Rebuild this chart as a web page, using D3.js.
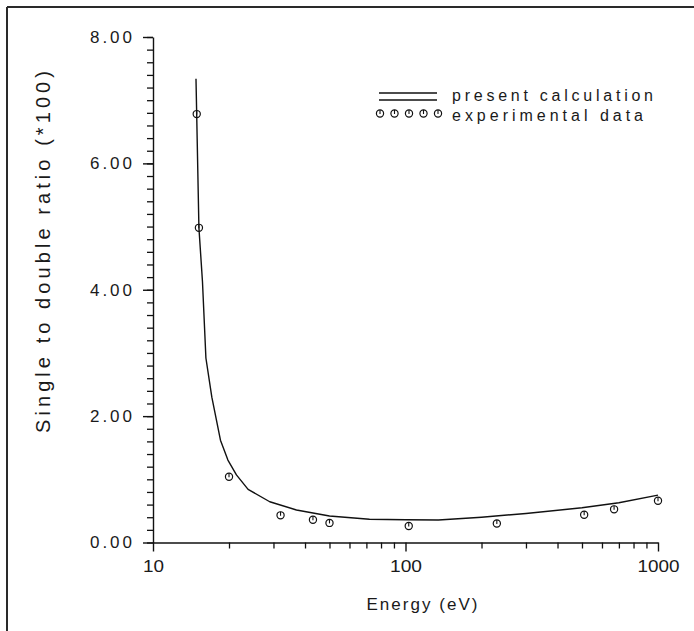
<!DOCTYPE html>
<html>
<head>
<meta charset="utf-8">
<script src="https://cdn.jsdelivr.net/npm/d3@7"></script>
<style>
  html, body { margin: 0; padding: 0; background: #fff; }
  svg { display: block; }
  text { font-family: "Liberation Sans", Arial, sans-serif; fill: #1a1a1a; }
</style>
</head>
<body>
<script>
// ---- data ----
const calcEnergy = [14.8, 15.2, 15.7, 16.2, 17.1, 18.5, 19.8, 21.4, 23.8, 29, 37, 50, 72, 100, 135, 200, 300, 500, 700, 1000];
const calcRatio  = [7.34, 4.98, 4.13, 2.92, 2.30, 1.62, 1.305, 1.07, 0.84, 0.645, 0.514, 0.42, 0.367, 0.36, 0.355, 0.40, 0.46, 0.55, 0.63, 0.75];

const expEnergy = [14.9, 15.2, 20, 32, 43, 50, 103, 230, 510, 670, 1000];
const expRatio  = [6.78, 4.98, 1.04, 0.43, 0.36, 0.31, 0.26, 0.30, 0.44, 0.525, 0.66];

const xMajorTicks = [10, 100, 1000];
const xMinorTicks = [20, 30, 40, 50, 60, 70, 80, 90, 200, 300, 400, 500, 600, 700, 800, 900];
const yMajorTicks = [0, 2, 4, 6, 8];
const yMinorTicks = d3.range(0, 8.001, 0.2);

const legendLabels = ["present calculation", "experimental data"];
const xTitle = "Energy (eV)";
const yTitle = "Single to double ratio (*100)";

// ---- drawing ----
const W = 694, H = 631;
const svg = d3.select("body").append("svg").attr("width", W).attr("height", H);

// frame (top and left edges only, as in the scan)
svg.append("line").attr("x1", 7).attr("y1", 7).attr("x2", W).attr("y2", 7)
  .attr("stroke", "#2a2a2a").attr("stroke-width", 2);
svg.append("line").attr("x1", 7).attr("y1", 7).attr("x2", 7).attr("y2", H)
  .attr("stroke", "#2a2a2a").attr("stroke-width", 2);

const x = d3.scaleLog().domain([10, 1000]).range([153, 658]);
const y = d3.scaleLinear().domain([0, 8]).range([542.5, 37]);

const ink = "#111";
const font = '"Liberation Sans", Arial, sans-serif';

// minor ticks
svg.append("g").attr("transform", `translate(0,${y(0)})`)
  .call(d3.axisBottom(x).tickValues(xMinorTicks).tickSize(6).tickSizeOuter(0).tickFormat(""))
  .call(g => g.select(".domain").remove())
  .call(g => g.selectAll("line").attr("stroke", ink).attr("stroke-width", 1.3));
svg.append("g").attr("transform", `translate(${x(10)},0)`)
  .call(d3.axisLeft(y).tickValues(yMinorTicks).tickSize(6).tickSizeOuter(0).tickFormat(""))
  .call(g => g.select(".domain").remove())
  .call(g => g.selectAll("line").attr("stroke", ink).attr("stroke-width", 1.3));

// major axes
const xWidths = {10: 21, 100: 32, 1000: 42};
svg.append("g").attr("transform", `translate(0,${y(0)})`)
  .call(d3.axisBottom(x).tickValues(xMajorTicks).tickSize(9).tickSizeOuter(0).tickPadding(8).tickFormat(d3.format("d")))
  .call(g => g.select(".domain").attr("stroke", ink).attr("stroke-width", 1.4))
  .call(g => g.selectAll("line").attr("stroke", ink).attr("stroke-width", 1.4))
  .call(g => g.selectAll("text").attr("font-size", 17).attr("fill", "#1a1a1a")
      .attr("font-family", font)
      .attr("textLength", d => xWidths[d]).attr("lengthAdjust", "spacingAndGlyphs"));

svg.append("g").attr("transform", `translate(${x(10)},0)`)
  .call(d3.axisLeft(y).tickValues(yMajorTicks).tickSize(10).tickSizeOuter(0).tickPadding(11).tickFormat(d3.format(".2f")))
  .call(g => g.select(".domain").attr("stroke", ink).attr("stroke-width", 1.4))
  .call(g => g.selectAll("line").attr("stroke", ink).attr("stroke-width", 1.4))
  .call(g => g.selectAll("text").attr("font-size", 17).attr("fill", "#1a1a1a")
      .attr("font-family", font)
      .attr("textLength", 42).attr("lengthAdjust", "spacing"));

// axis titles
svg.append("text").attr("x", 422).attr("y", 610).attr("text-anchor", "middle")
  .attr("font-size", 17).attr("textLength", 111).attr("lengthAdjust", "spacing").text(xTitle);
svg.append("text").attr("transform", "translate(50,252) rotate(-90)").attr("text-anchor", "middle")
  .attr("font-size", 20).attr("textLength", 362).attr("lengthAdjust", "spacing").text(yTitle);

// calculated curve
const line = d3.line().x((d, i) => x(calcEnergy[i])).y(d => y(d)).curve(d3.curveLinear);
svg.append("path").attr("d", line(calcRatio)).attr("fill", "none")
  .attr("stroke", ink).attr("stroke-width", 1.4).attr("stroke-linejoin", "round");

// experimental markers
function marker(g, cx, cy) {
  g.append("circle").attr("cx", cx).attr("cy", cy).attr("r", 3.6)
    .attr("fill", "none").attr("stroke", ink).attr("stroke-width", 1.2);
  g.append("line").attr("x1", cx).attr("x2", cx).attr("y1", cy - 3.6).attr("y2", cy + 0.5)
    .attr("stroke", ink).attr("stroke-width", 1.1);
}
const pts = svg.append("g");
expRatio.forEach((v, i) => marker(pts, x(expEnergy[i]), y(v)));

// legend
const lg = svg.append("g");
lg.append("line").attr("x1", 379).attr("x2", 437).attr("y1", 93).attr("y2", 93)
  .attr("stroke", ink).attr("stroke-width", 1.4);
lg.append("line").attr("x1", 379).attr("x2", 437).attr("y1", 100).attr("y2", 100)
  .attr("stroke", ink).attr("stroke-width", 1.4);
[380, 394.5, 409, 423.5, 438].forEach(cx => marker(lg, cx, 113.5));
lg.append("text").attr("x", 452).attr("y", 101).attr("font-size", 16)
  .attr("textLength", 201).attr("lengthAdjust", "spacing").text(legendLabels[0]);
lg.append("text").attr("x", 452).attr("y", 121).attr("font-size", 16)
  .attr("textLength", 191).attr("lengthAdjust", "spacing").text(legendLabels[1]);
</script>
</body>
</html>
